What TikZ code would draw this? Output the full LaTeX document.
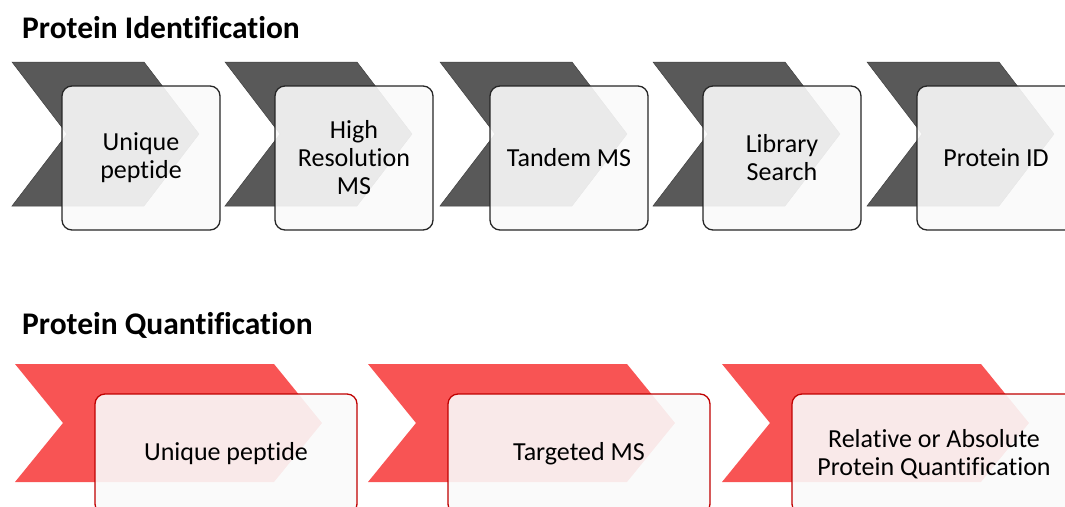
\documentclass[tikz,border=0pt]{standalone}
\usepackage{fontspec}
\setmainfont{Carlito}[Ligatures=NoCommon]
\definecolor{chevgrey}{HTML}{595959}
\definecolor{chevedge}{HTML}{404040}
\definecolor{chevred}{HTML}{F85454}
\definecolor{boxfill}{HTML}{FAFAFA}
\definecolor{boxedge}{HTML}{262626}
\definecolor{rededge}{HTML}{C00000}
% chevron: left x, top y, width, height, point depth, style
\newcommand\chevshape[6]{%
  \path[#6] (#1,#2) -- ({#1+#3-#5},#2) -- ({#1+#3},{#2+#4/2})
    -- ({#1+#3-#5},{#2+#4}) -- (#1,{#2+#4}) -- ({#1+#5},{#2+#4/2}) -- cycle;}
\begin{document}
\begin{tikzpicture}[x=1pt,y=-1pt,
  greychev/.style={fill=chevgrey, draw=chevedge, line width=0.5pt},
  redchev/.style={fill=chevred},
  stepbox/.style={rectangle, rounded corners=10pt, fill=boxfill,
    fill opacity=0.9, text opacity=1, line width=1.3pt, align=center,
    font=\fontsize{26}{28}\selectfont, inner sep=0pt},
  idbox/.style={stepbox, draw=boxedge, minimum width=158pt, minimum height=144pt},
  qbox/.style={stepbox, draw=rededge, minimum height=120pt},
  title/.style={anchor=base west, inner sep=0pt, font=\bfseries\fontsize{31.5}{36}\selectfont}]
\useasboundingbox (0,0) rectangle (1065,506);
\clip (0,0) rectangle (1065,506);

% titles
\node[title] (tid) at (22,38) {Protein Identification};
\node[title] (tq) at (22,334) {Protein Quantification};

% identification chevrons
\foreach \x in {12,225,440,653,867}{\chevshape{\x}{62}{187}{144}{55}{greychev}}
% identification steps
\node[idbox] (id1) at (141,158) {Unique\\peptide};
\node[idbox] (id2) at (354,158) {High\\Resolution\\MS};
\node[idbox] (id3) at (569,158) {Tandem MS};
\node[idbox] (id4) at (782,158) {Library\\Search};
\node[idbox] (id5) at (996,158) {Protein ID};

% quantification chevrons
\foreach \x in {15,368,722}{\chevshape{\x}{364}{307}{118}{48}{redchev}}
% quantification steps
\node[qbox, minimum width=262pt] (q1) at (226,454) {Unique peptide};
\node[qbox, minimum width=262pt] (q2) at (579,454) {Targeted MS};
\node[qbox, minimum width=284pt] (q3) at (934,454) {Relative or Absolute\\Protein Quantification};
\end{tikzpicture}
\end{document}
